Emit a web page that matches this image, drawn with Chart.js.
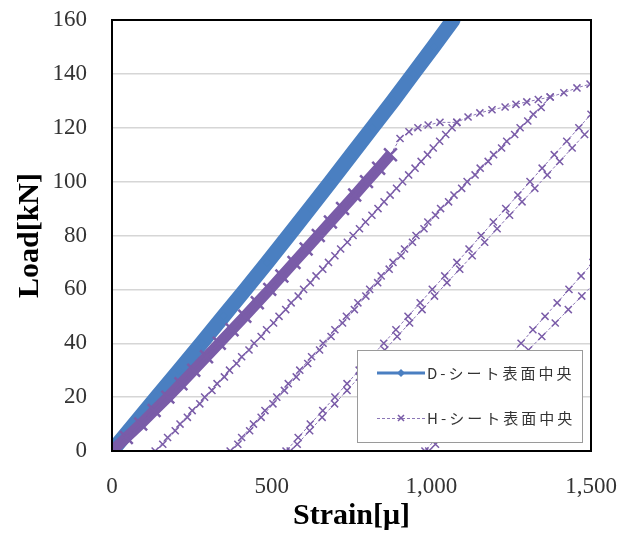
<!DOCTYPE html>
<html>
<head>
<meta charset="utf-8">
<script src="https://cdn.jsdelivr.net/npm/chart.js@4.4.1/dist/chart.umd.min.js"></script>
<style>
  html, body { margin: 0; padding: 0; background: #fff; }
  #wrap { width: 630px; height: 534px; }
</style>
</head>
<body>
<div id="wrap"><canvas id="myChart" width="630" height="534"></canvas></div>
<script>
// axis ticks
const xTicks = [0, 500, 1000, 1500];
const xTickLabels = ["0", "500", "1,000", "1,500"];
const yTicks = [0, 20, 40, 60, 80, 100, 120, 140, 160];
const seriesNames = ["D-シート表面中央", "H-シート表面中央"];

// D series (strain, load)
const dStrain = [0, 70, 140, 210, 280, 349, 418, 486, 553, 619, 685, 750, 815, 880, 943, 1006, 1068];
const dLoad   = [0, 10, 20, 30, 40, 50, 60, 70, 80, 90, 100, 110, 120, 130, 140, 150, 160];

// H series, first loading (dense band)
const hFirstStrain = [0, 45, 90, 132, 175, 216, 256, 296, 336, 376, 416, 455, 494, 532, 570, 608, 646, 684, 722, 760, 797, 835, 872];
const hFirstLoad   = [0, 5, 10, 15, 20, 25, 30, 35, 40, 45, 50, 55, 60, 65, 70, 75, 80, 85, 90, 95, 100, 105, 110];

// H series, cycles in test order
const env1Strain = [872, 902, 930, 958, 990, 1027, 1080];
const env1Load   = [110, 116, 118.5, 120, 121, 122, 122];

const aDownStrain = [1065, 1026, 988, 949, 910, 871, 833, 794, 755, 716, 678, 639, 600, 561, 523, 484, 445, 406, 368, 329, 290, 251, 213, 174, 135];
const aDownLoad   = [120, 115, 110, 105, 100, 95, 90, 85, 80, 75, 70, 65, 60, 55, 50, 45, 40, 35, 30, 25, 20, 15, 10, 5, 0];
const aUpStrain = [159, 198, 236, 275, 313, 352, 390, 429, 467, 506, 544, 583, 621, 660, 698, 737, 775, 814, 852, 891, 929, 968, 1006, 1045, 1080];
const aUpLoad   = [2.5, 7.5, 12.5, 17.5, 22.5, 27.5, 32.5, 37.5, 42.5, 47.5, 52.5, 57.5, 62.5, 67.5, 72.5, 77.5, 82.5, 87.5, 92.5, 97.5, 102.5, 107.5, 112.5, 117.5, 122];

const env2Strain = [1115, 1152, 1190, 1231, 1265, 1299, 1335, 1372];
const env2Load   = [124, 125.5, 126.7, 127.7, 128.7, 129.6, 130.5, 131.4];

const bDownStrain = [1319, 1278, 1236, 1195, 1153, 1112, 1071, 1029, 989, 952, 916, 880, 843, 807, 770, 734, 698, 661, 625, 588, 552, 516, 479, 443, 406, 370];
const bDownLoad   = [125, 120, 115, 110, 105, 100, 95, 90, 85, 80, 75, 70, 65, 60, 55, 50, 45, 40, 35, 30, 25, 20, 15, 10, 5, 0];
const bUpStrain = [394, 431, 467, 504, 540, 577, 613, 650, 686, 722, 759, 795, 832, 868, 905, 941, 977, 1013, 1054, 1095, 1137, 1178, 1220, 1261, 1302, 1344, 1372];
const bUpLoad   = [2.5, 7.5, 12.5, 17.5, 22.5, 27.5, 32.5, 37.5, 42.5, 47.5, 52.5, 57.5, 62.5, 67.5, 72.5, 77.5, 82.5, 87.5, 92.5, 97.5, 102.5, 107.5, 112.5, 117.5, 122.5, 127.5, 131.4];

const env3Strain = [1415, 1456, 1497, 1560, 1622];
const env3Load   = [133, 134.8, 136.2, 138.5, 141];

const cDownStrain = [1576, 1538, 1500, 1462, 1424, 1385, 1347, 1309, 1271, 1233, 1194, 1156, 1118, 1080, 1042, 1003, 965, 927, 889, 851, 812, 774, 736, 698, 660, 621, 583, 545];
const cDownLoad   = [135, 130, 125, 120, 115, 110, 105, 100, 95, 90, 85, 80, 75, 70, 65, 60, 55, 50, 45, 40, 35, 30, 25, 20, 15, 10, 5, 0];
const cUpStrain = [558, 580, 619, 658, 697, 736, 775, 814, 854, 893, 932, 971, 1010, 1049, 1089, 1128, 1167, 1206, 1245, 1284, 1324, 1363, 1402, 1441, 1480, 1519, 1558, 1617];
const cUpLoad   = [0, 2.5, 7.5, 12.5, 17.5, 22.5, 27.5, 32.5, 37.5, 42.5, 47.5, 52.5, 57.5, 62.5, 67.5, 72.5, 77.5, 82.5, 87.5, 92.5, 97.5, 102.5, 107.5, 112.5, 117.5, 122.5, 127.5, 135];

const env4Strain = [1700, 1800];
const env4Load   = [145, 148];

const eDownStrain = [1807, 1732, 1657, 1582, 1544, 1506, 1469, 1431, 1394, 1356, 1318, 1281, 1243, 1206, 1168, 1130, 1093, 1055, 1018, 980];
const eDownLoad   = [110, 100, 90, 80, 75, 70, 65, 60, 55, 50, 45, 40, 35, 30, 25, 20, 15, 10, 5, 0];
const eUpStrain = [992, 1013, 1054, 1096, 1138, 1179, 1221, 1263, 1304, 1346, 1388, 1429, 1471, 1513, 1575, 1658];
const eUpLoad   = [0, 2.5, 7.5, 12.5, 17.5, 22.5, 27.5, 32.5, 37.5, 42.5, 47.5, 52.5, 57.5, 62.5, 70, 80];

const blue = "#4a7fc1";
const purple = "#7a5ca8";
const purpleThin = "#8b76b6";

function pts(xs, ys) {
  return xs.map((x, i) => ({ x: x, y: ys[i] }));
}

const hCycles = [].concat(
  pts(env1Strain, env1Load),
  pts(aDownStrain, aDownLoad), pts(aUpStrain, aUpLoad),
  pts(env2Strain, env2Load),
  pts(bDownStrain, bDownLoad), pts(bUpStrain, bUpLoad),
  pts(env3Strain, env3Load),
  pts(cDownStrain, cDownLoad), pts(cUpStrain, cUpLoad),
  pts(env4Strain, env4Load),
  pts(eDownStrain, eDownLoad), pts(eUpStrain, eUpLoad)
);

// legend box drawn inside the plot, over the lines
const legendBox = {
  id: "legendBox",
  afterDatasetsDraw(chart) {
    const { ctx, chartArea } = chart;
    const w = 225, h = 92;
    const x = chartArea.right - 9 - w;
    const y = chartArea.bottom - 9 - h;
    ctx.save();
    ctx.fillStyle = "#fff";
    ctx.fillRect(x, y, w, h);
    ctx.strokeStyle = "#9a9a9a";
    ctx.lineWidth = 1;
    ctx.strokeRect(x + 0.5, y + 0.5, w, h);

    const rows = [y + 23, y + 68];
    // D row
    ctx.strokeStyle = blue;
    ctx.lineWidth = 3;
    ctx.beginPath();
    ctx.moveTo(x + 20, rows[0]);
    ctx.lineTo(x + 68, rows[0]);
    ctx.stroke();
    ctx.fillStyle = blue;
    ctx.beginPath();
    ctx.moveTo(x + 44, rows[0] - 4);
    ctx.lineTo(x + 48, rows[0]);
    ctx.lineTo(x + 44, rows[0] + 4);
    ctx.lineTo(x + 40, rows[0]);
    ctx.closePath();
    ctx.fill();
    // H row
    ctx.strokeStyle = purpleThin;
    ctx.lineWidth = 1;
    ctx.setLineDash([3, 2]);
    ctx.beginPath();
    ctx.moveTo(x + 20, rows[1] + 0.5);
    ctx.lineTo(x + 68, rows[1] + 0.5);
    ctx.stroke();
    ctx.setLineDash([]);
    ctx.strokeStyle = purple;
    ctx.lineWidth = 1.5;
    ctx.beginPath();
    ctx.moveTo(x + 41, rows[1] - 3);
    ctx.lineTo(x + 47, rows[1] + 3);
    ctx.moveTo(x + 47, rows[1] - 3);
    ctx.lineTo(x + 41, rows[1] + 3);
    ctx.stroke();

    ctx.fillStyle = "#333";
    ctx.font = "15px 'Noto Sans CJK JP', sans-serif";
    ctx.letterSpacing = "3px";
    ctx.textBaseline = "middle";
    ctx.textAlign = "left";
    ctx.fillText(seriesNames[0], x + 70, rows[0]);
    ctx.fillText(seriesNames[1], x + 70, rows[1]);
    ctx.restore();
  }
};

const frame = {
  id: "frame",
  afterDraw(chart) {
    const { ctx, chartArea } = chart;
    ctx.save();
    ctx.strokeStyle = "#000";
    ctx.lineWidth = 2;
    ctx.strokeRect(chartArea.left, chartArea.top, chartArea.right - chartArea.left, chartArea.bottom - chartArea.top);
    ctx.restore();
  }
};

const ctx = document.getElementById("myChart").getContext("2d");

new Chart(ctx, {
  type: "scatter",
  data: {
    datasets: [
      {
        label: seriesNames[1],
        data: pts(hFirstStrain, hFirstLoad),
        showLine: true,
        borderColor: purple,
        borderWidth: 11,
        pointStyle: "crossRot",
        pointRadius: 9,
        pointBorderWidth: 2.5,
        pointBorderColor: purple,
        order: 1
      },
      {
        label: seriesNames[1],
        data: hCycles,
        showLine: true,
        borderColor: purpleThin,
        borderWidth: 1,
        borderDash: [3, 2],
        pointStyle: "crossRot",
        pointRadius: 5,
        pointBorderWidth: 1.5,
        pointBorderColor: purple,
        order: 2
      },
      {
        label: seriesNames[0],
        data: pts(dStrain, dLoad),
        showLine: true,
        borderColor: blue,
        borderWidth: 15,
        borderCapStyle: "round",
        pointStyle: "rectRot",
        pointRadius: 4,
        pointBorderWidth: 0,
        pointBackgroundColor: blue,
        order: 3
      }
    ]
  },
  options: {
    responsive: false,
    animation: false,
    layout: { padding: { top: 20, right: 39, left: 0, bottom: 0 } },
    plugins: {
      legend: { display: false },
      tooltip: { enabled: false }
    },
    scales: {
      x: {
        type: "linear",
        min: 0,
        max: 1500,
        afterBuildTicks: (scale) => { scale.ticks = xTicks.map(v => ({ value: v })); },
        afterFit: (scale) => { scale.height = 83; scale.paddingLeft = 0; scale.paddingRight = 0; },
        grid: { display: false },
        border: { display: false },
        ticks: {
          padding: 14,
          maxRotation: 0,
          color: "#333",
          font: { family: "'Liberation Serif', serif", size: 23 },
          callback: (v) => xTickLabels[xTicks.indexOf(v)]
        },
        title: {
          display: true,
          text: "Strain[μ]",
          color: "#000",
          padding: { top: 0, bottom: 0 },
          font: { family: "'Liberation Serif', serif", size: 30, weight: "bold", lineHeight: 1.2 }
        }
      },
      y: {
        type: "linear",
        min: 0,
        max: 160,
        afterBuildTicks: (scale) => { scale.ticks = yTicks.map(v => ({ value: v })); },
        afterFit: (scale) => { scale.width = 112; scale.paddingTop = 0; scale.paddingBottom = 0; },
        grid: { color: "#d6d6d6", lineWidth: 1.5, drawTicks: false },
        border: { display: false },
        ticks: {
          padding: 25,
          color: "#333",
          font: { family: "'Liberation Serif', serif", size: 23 }
        },
        title: {
          display: true,
          text: "Load[kN]",
          color: "#000",
          padding: { top: 12, bottom: 0 },
          font: { family: "'Liberation Serif', serif", size: 30, weight: "bold", lineHeight: 1.2 }
        }
      }
    }
  },
  plugins: [legendBox, frame]
});
</script>
</body>
</html>
